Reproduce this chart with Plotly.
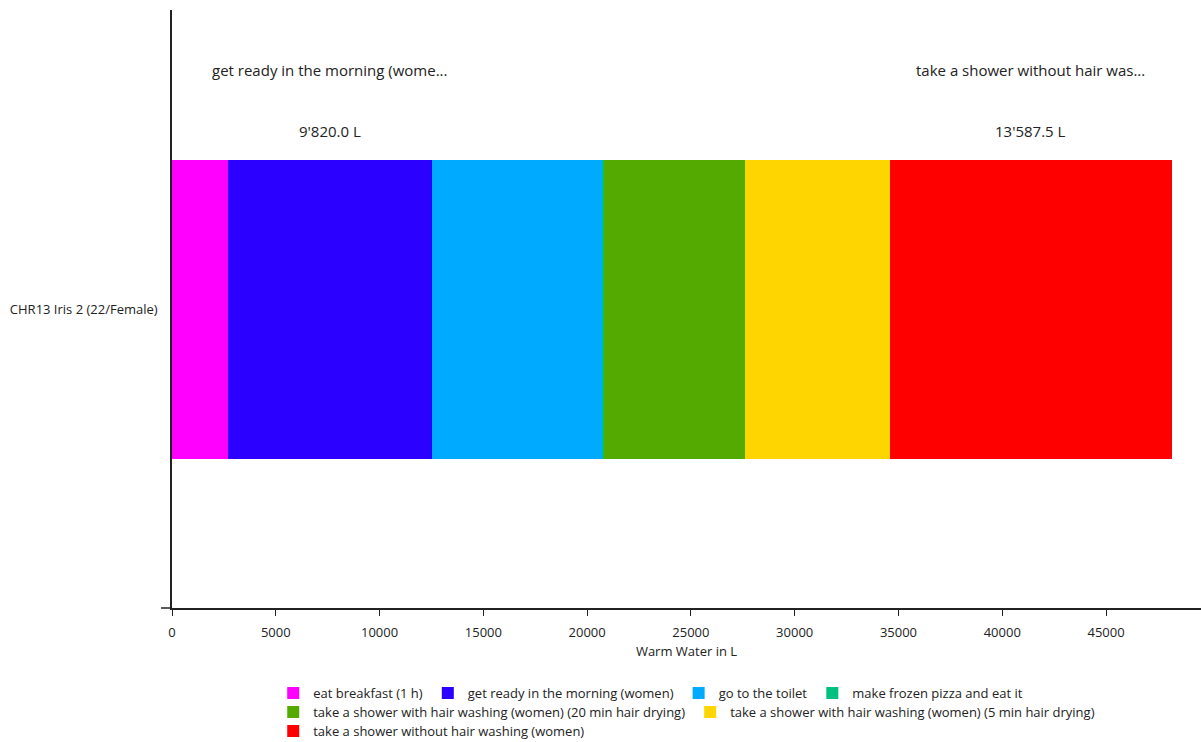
import plotly.graph_objects as go

person = ["CHR13 Iris 2 (22/Female)"]
activities = [
    "eat breakfast (1 h)",
    "get ready in the morning (women)",
    "go to the toilet",
    "make frozen pizza and eat it",
    "take a shower with hair washing (women) (20 min hair drying)",
    "take a shower with hair washing (women) (5 min hair drying)",
    "take a shower without hair washing (women)",
]
water_l = [2700.0, 9820.0, 8210.0, 70.0, 6800.0, 6980.0, 13587.5]
colors = ["#FF00FF", "#2B00FF", "#00AAFF", "#00C080", "#55AA00", "#FFD500", "#FF0000"]
legend_rows = ["legend", "legend", "legend", "legend", "legend2", "legend2", "legend3"]
labelled = [
    ("get ready in the morning (wome...", "9'820.0 L", 1),
    ("take a shower without hair was...", "13'587.5 L", 6),
]
tick_values = [0, 5000, 10000, 15000, 20000, 25000, 30000, 35000, 40000, 45000]

FONT = "Segoe UI, Open Sans, Noto Sans, sans-serif"

fig = go.Figure()
for name, val, col, lg in zip(activities, water_l, colors, legend_rows):
    fig.add_trace(go.Bar(
        y=person, x=[val], name=name, orientation="h", legend=lg,
        marker=dict(color=col, line=dict(width=0)),
    ))

starts = [sum(water_l[:i]) for i in range(len(water_l))]
for title, amount, idx in labelled:
    cx = starts[idx] + water_l[idx] / 2
    fig.add_annotation(x=cx, y=(608 - 70) / 598, xref="x", yref="paper", text=title,
                       showarrow=False, xanchor="center", yanchor="middle",
                       font=dict(size=15, color="#222"))
    fig.add_annotation(x=cx, y=(608 - 131) / 598, xref="x", yref="paper", text=amount,
                       showarrow=False, xanchor="center", yanchor="middle",
                       font=dict(size=15, color="#222"))

# small extension of x axis line to the left of the y axis
fig.add_shape(type="line", xref="paper", yref="paper", x0=-11 / 1029, x1=0, y0=0, y1=0,
              line=dict(color="#222", width=1.5))

leg_common = dict(orientation="h", xref="container", yref="container", x=0.2275,
                  xanchor="left", yanchor="middle", font=dict(size=13, color="#222"),
                  traceorder="normal", bgcolor="rgba(0,0,0,0)", tracegroupgap=0)

fig.update_layout(
    barmode="stack",
    bargap=0.5,
    width=1201, height=742,
    margin=dict(l=172, r=0, t=10, b=134, autoexpand=False),
    paper_bgcolor="white", plot_bgcolor="white",
    font=dict(family=FONT, size=13, color="#222"),
    showlegend=True,
    legend=dict(y=1 - 693 / 742, **leg_common),
    legend2=dict(y=1 - 712 / 742, **leg_common),
    legend3=dict(y=1 - 731 / 742, **leg_common),
    xaxis=dict(range=[0, 49576], tickvals=tick_values, tickformat="d",
               ticks="outside", ticklen=6, tickcolor="#222", showline=True, linecolor="#222",
               linewidth=1.5, showgrid=False, zeroline=False, automargin=False,
               ticklabelstandoff=6,
               title=dict(text="Warm Water in L", font=dict(size=13), standoff=7),
               tickfont=dict(size=13)),
    yaxis=dict(showline=True, linecolor="#222", linewidth=1.5, showgrid=False,
               ticks="", tickfont=dict(size=13), ticklabelstandoff=10, automargin=False),
)

fig.write_html("out.html", config={"displayModeBar": False},
               post_script="document.body.style.margin='0px';")
